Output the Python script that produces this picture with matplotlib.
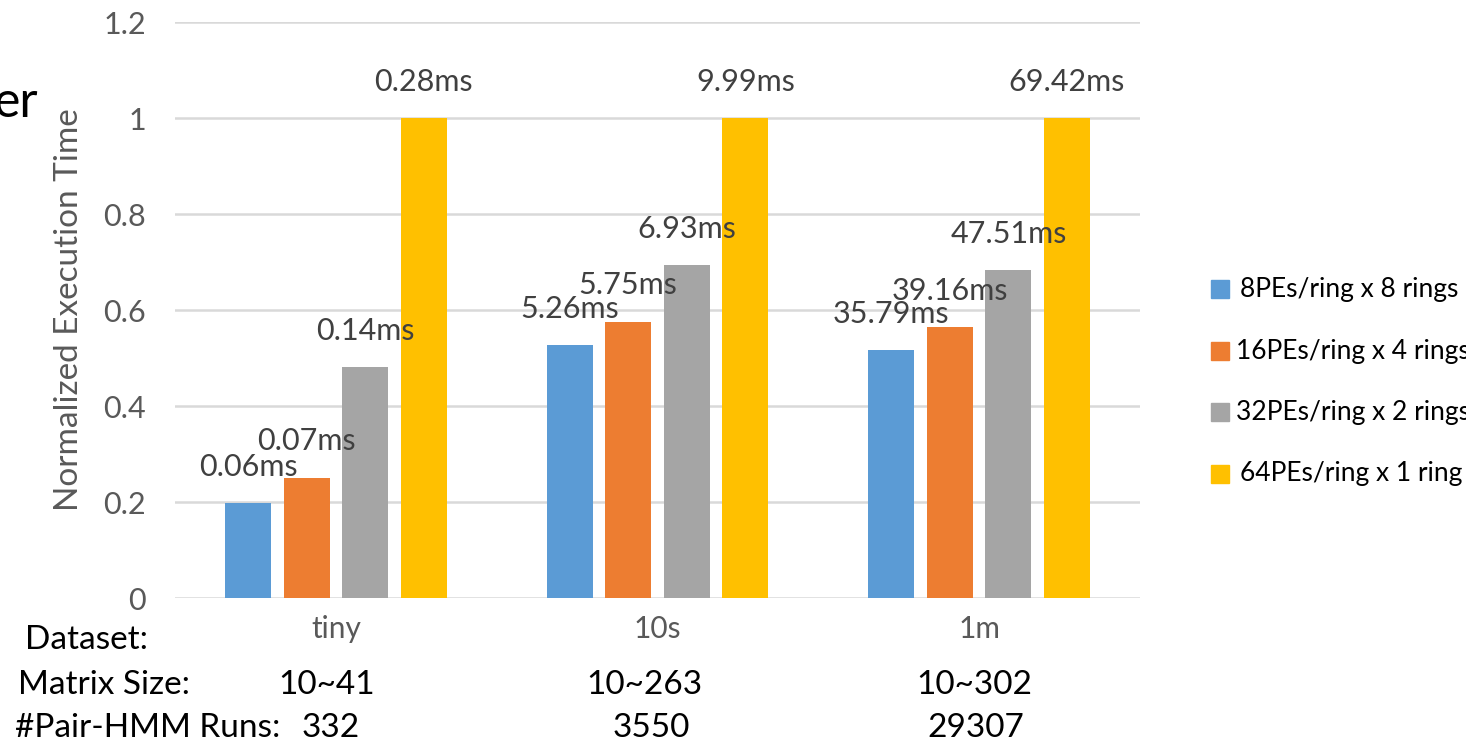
import matplotlib
matplotlib.use("Agg")
import matplotlib.pyplot as plt
import matplotlib.transforms as mtransforms
import numpy as np

plt.rcParams['font.family'] = ['Lato', 'DejaVu Sans']

# Datasets and their properties
datasets = ["tiny", "10s", "1m"]
matrix_sizes = ["10~41", "10~263", "10~302"]
pairhmm_runs = ["332", "3550", "29307"]

# PE configurations
configs = ["8PEs/ring x 8 rings", "16PEs/ring x 4 rings",
           "32PEs/ring x 2 rings", "64PEs/ring x 1 ring"]
colors = ["#5B9BD5", "#ED7D31", "#A5A5A5", "#FFC000"]

# Normalized execution time (per dataset, normalized to 64PEs/ring x 1 ring)
norm_8x8 = [0.197, 0.527, 0.516]
norm_16x4 = [0.251, 0.576, 0.564]
norm_32x2 = [0.482, 0.694, 0.684]
norm_64x1 = [1.0, 1.0, 1.0]

# Absolute execution times shown as labels
ms_8x8 = ["0.06ms", "5.26ms", "35.79ms"]
ms_16x4 = ["0.07ms", "5.75ms", "39.16ms"]
ms_32x2 = ["0.14ms", "6.93ms", "47.51ms"]
ms_64x1 = ["0.28ms", "9.99ms", "69.42ms"]

yticks = [0, 0.2, 0.4, 0.6, 0.8, 1.0, 1.2]
ytick_labels = ["0", "0.2", "0.4", "0.6", "0.8", "1", "1.2"]

series = [norm_8x8, norm_16x4, norm_32x2, norm_64x1]
labels = [ms_8x8, ms_16x4, ms_32x2, ms_64x1]

W, H = 1466, 745
fig = plt.figure(figsize=(W / 100, H / 100), dpi=100)
ax = fig.add_axes([175 / W, 147 / H, 965 / W, 576 / H])

x = np.arange(len(datasets))
pitch = 0.182
width = 0.143
text_gray = "#595959"

for k, (vals, labs, col) in enumerate(zip(series, labels, colors)):
    xs = x + (k - 1.5) * pitch
    bars = ax.bar(xs, vals, width=width, color=col, zorder=3, label=configs[k])
    for b, lab in zip(bars, labs):
        ax.annotate(lab, (b.get_x() + b.get_width() / 2, b.get_height()),
                    xytext=(0, 26), textcoords="offset points",
                    ha="center", va="center", fontsize=22, color="#404040",
                    zorder=4)

ax.set_xlim(-0.5, 2.5)
ax.set_ylim(0, 1.2)
ax.set_yticks(yticks)
ax.set_yticklabels(ytick_labels, fontsize=22, color=text_gray)
ax.yaxis.grid(True, color="#D9D9D9", linewidth=1.8, zorder=0)
ax.set_axisbelow(True)
for s in ax.spines.values():
    s.set_visible(False)
ax.tick_params(axis="both", length=0)
ax.tick_params(axis="y", pad=21)
ax.set_xticks(x)
ax.set_xticklabels(datasets, fontsize=21.5, color=text_gray)
ax.tick_params(axis="x", pad=12)

ax.set_ylabel("Normalized Execution Time", fontsize=24, color=text_gray,
              labelpad=14)

# Row labels beneath the category axis
trans = mtransforms.blended_transform_factory(ax.transData, fig.transFigure)
row_fs = 24
fig.text(25 / W, 1 - 640 / H, "Dataset:", fontsize=row_fs, va="center", ha="left")
fig.text(18 / W, 1 - 685 / H, "Matrix Size:", fontsize=row_fs, va="center", ha="left")
fig.text(15 / W, 1 - 728 / H, "#Pair-HMM Runs:", fontsize=row_fs, va="center", ha="left")
ms_offsets = [-0.03, -0.04, -0.015]
run_offsets = [-0.015, -0.02, -0.01]
for i in range(len(datasets)):
    ax.text(x[i] + ms_offsets[i], 1 - 685 / H, matrix_sizes[i], transform=trans,
            fontsize=row_fs, ha="center", va="center")
    ax.text(x[i] + run_offsets[i], 1 - 728 / H, pairhmm_runs[i], transform=trans,
            fontsize=row_fs, ha="center", va="center")

# Fragment of a slide title at the left edge
fig.text(39 / W, 1 - 117 / H, "er", fontsize=36, ha="right", va="baseline")

# Legend
leg_y = [289, 351, 412, 474]
leg_text_x = [1240, 1236, 1236, 1240]
for yy, tx, lab, col in zip(leg_y, leg_text_x, configs, colors):
    fig.patches.append(plt.Rectangle((1211 / W, 1 - (yy + 9) / H), 18 / W, 18 / H,
                                     transform=fig.transFigure, color=col))
    fig.text(tx / W, 1 - yy / H, lab, fontsize=19, ha="left", va="center")

fig.savefig("out.png", dpi=100)
